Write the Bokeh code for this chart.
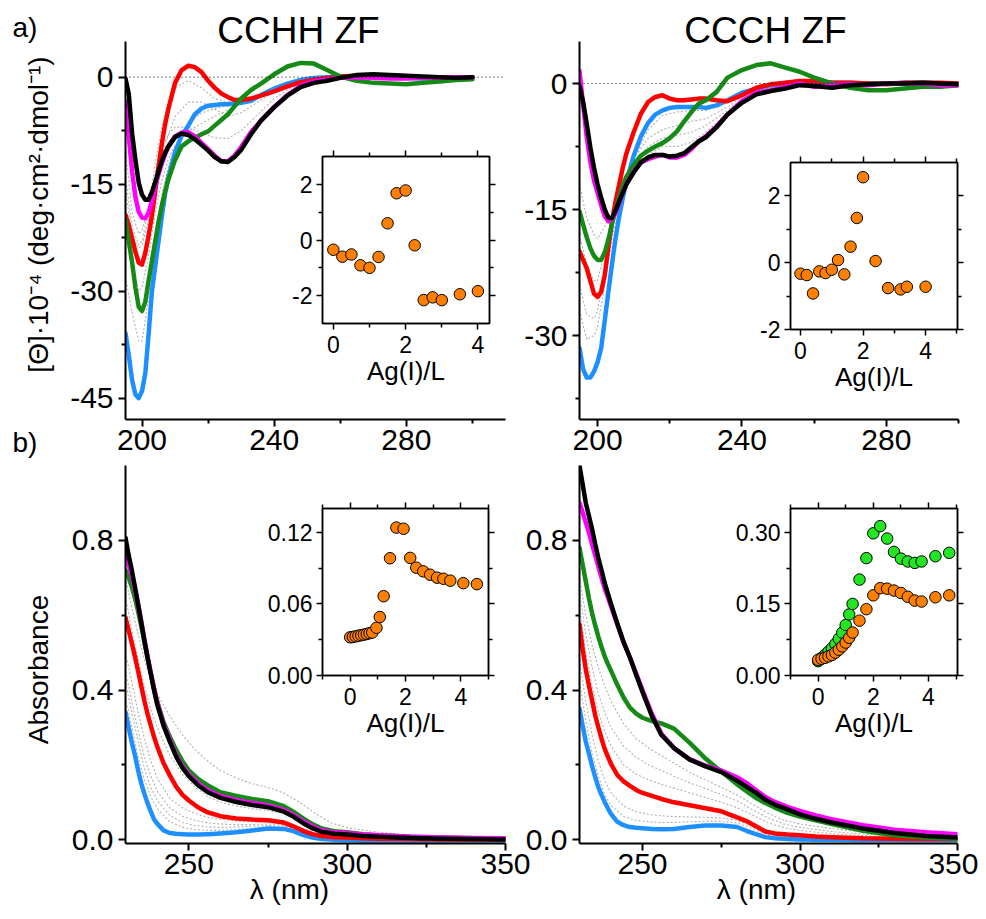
import math
from bokeh.plotting import figure
from bokeh.models import (Range1d, FixedTicker, Span, Label, LinearAxis,
                          PrintfTickFormatter, CustomJSTickFormatter)
from bokeh.embed import file_html
from bokeh.resources import INLINE

# ---------------- data: CD spectra (a) ----------------
cd_wl = [195, 196, 197, 198, 199, 200, 201, 202, 203, 204, 205, 206, 207, 208, 210, 212, 214, 216, 218, 220,
         222, 224, 226, 228, 230, 233, 236, 240, 244, 248, 252, 256, 260, 265, 270, 275, 280, 285, 290, 295, 300]

cchh_cd_blue = [-35.9, -39, -42.5, -44.5, -45, -44, -41.5, -36, -30, -26.5, -23, -19.5, -16.3, -14, -10.5, -8.2, -6.8,
                -5.2, -4.4, -4.0, -3.9, -3.8, -3.8, -3.7, -3.6, -3.3, -2.5, -1.6, -0.9, -0.4, -0.1, 0, 0.1, 0.1, 0.0,
                -0.1, -0.1, -0.2, -0.1, -0.1, 0.0]
cchh_cd_red = [-19.3, -20.8, -22.6, -24.5, -26, -26.3, -24.6, -22.2, -19.4, -16, -12.5, -9.3, -6.6, -4.4, -0.8, 1.0,
               1.6, 1.4, 0.7, -0.5, -1.5, -2.3, -2.8, -3.2, -3.2, -3.0, -2.6, -2.0, -1.3, -0.7, -0.4, -0.1, 0.1, 0.2,
               0.2, 0.1, 0, -0.1, 0, -0.1, 0]
cchh_cd_green = [-20, -23, -26, -29.5, -32.2, -32.8, -31.5, -28.5, -25.8, -23, -20.3, -18, -16, -14.3, -11.6, -9.7,
                 -9, -8.5, -8, -7.6, -6.8, -6, -5.2, -4.1, -3.0, -1.8, -0.9, 0.4, 1.5, 2.0, 1.9, 1.0, 0.1, -0.5, -0.8,
                 -0.9, -1.0, -0.8, -0.6, -0.4, -0.3]
cchh_cd_magenta = [-3.5, -8.4, -13.2, -16.8, -18.9, -19.7, -19.8, -19, -17.4, -15.3, -13.6, -12.1, -10.8, -9.7, -8.3,
                   -7.8, -7.7, -8.3, -9.2, -10.1, -11, -11.8, -11.8, -11, -9.8, -7.7, -6.1, -4.2, -2.5, -1.2, -0.6,
                   -0.3, -0.1, 0, -0.1, -0.2, -0.2, -0.1, -0.1, 0, 0]
cchh_cd_black = [-0.2, -2.4, -7.9, -11.6, -14.8, -16.5, -17.2, -17.2, -16.1, -14.7, -13.2, -11.7, -10.6, -9.7, -8.4,
                 -7.9, -8.1, -8.7, -9.5, -10.3, -11.2, -11.8, -11.9, -11.2, -10.2, -8, -6.1, -4.2, -2.6, -1.4, -0.8,
                 -0.5, -0.1, 0.3, 0.4, 0.3, 0.2, 0.1, 0, -0.1, 0]

ccch_cd_blue = [-31.5, -34, -35, -35, -34.3, -33.2, -31.5, -28.2, -24.8, -21.5, -18.4, -15.8, -13.6, -11.7, -8.6,
                -6.3, -4.7, -3.7, -3.2, -2.9, -2.8, -2.8, -2.8, -2.8, -2.9, -2.6, -2.0, -1.1, -0.6, -0.2, 0, 0.1, 0.2,
                0.1, 0.1, 0, 0, 0.1, 0.1, 0, 0]
ccch_cd_red = [-20, -21, -22, -23.5, -25, -25.4, -24.8, -22.8, -19.5, -16.5, -14, -12, -10, -8.3, -5.8, -3.6, -2.2,
               -1.6, -1.4, -1.8, -2.0, -2.0, -1.9, -1.8, -1.8, -2.0, -2.1, -1.4, -0.5, -0.1, 0.1, 0.3, 0.3, 0.1, 0.1,
               0, -0.1, 0.1, 0.1, 0.1, 0]
ccch_cd_green = [-15.2, -16.8, -18.3, -19.6, -20.5, -21, -21, -20.1, -18.6, -16.7, -15.0, -13.5, -12.1, -11.1, -9.7,
                 -8.6, -8.0, -7.5, -7.1, -6.5, -5.7, -4.5, -3.4, -2.4, -2.0, -1.0, 0.7, 1.6, 2.2, 2.4, 1.9, 1.4, 0.7,
                 0, -0.5, -0.8, -0.8, -0.6, -0.4, -0.4, -0.2]
ccch_cd_magenta = [1.5, -2.5, -6.4, -9.3, -11.5, -13, -14.5, -15.8, -16.4, -16.1, -15.4, -14.2, -12.9, -11.9, -10.5,
                   -9.4, -9, -8.7, -8.5, -8.8, -8.8, -8.5, -7.8, -6.9, -6.3, -5.1, -3.7, -2.1, -1.1, -0.8, -0.4, 0,
                   -0.4, -0.2, -0.1, -0.2, 0, 0, 0, -0.2, -0.2]
ccch_cd_black = [-0.3, -2.2, -4.8, -7.6, -10, -12, -13.6, -15, -16, -16, -15.1, -14, -13, -12, -10.6, -9.4, -8.8,
                 -8.5, -8.5, -8.7, -8.6, -8.3, -7.6, -6.9, -6.4, -5.2, -3.7, -2.3, -1.3, -0.9, -0.6, -0.2, -0.3, -0.5,
                 -0.2, -0.1, 0, 0, 0.1, 0, -0.1]

# intermediate titration points (grey dotted)
cd_grey_wl = [195, 197, 199, 200, 202, 204, 206, 208, 210, 214, 218, 222, 226, 230, 236, 240, 246, 252, 260, 280, 300]
cchh_cd_grey = [
    [-28, -33, -37, -37, -31, -23, -16.5, -12.5, -9.8, -6.5, -5.0, -4.4, -4.0, -3.6, -2.4, -1.6, -0.6, -0.2, 0, 0, 0],
    [-22, -27, -30, -29.5, -25, -19, -14.5, -11.5, -9.5, -7.5, -6.5, -5.5, -4.6, -3.6, -2.3, -1.5, -0.6, -0.2, 0, 0, 0],
    [-16, -22, -24, -23.5, -20, -15, -11, -8, -5.5, -3.5, -3.5, -4.5, -5.5, -5, -3.2, -2.0, -0.8, -0.3, 0, 0, 0],
    [-10, -19, -22, -21.5, -18, -13.5, -10, -8, -7, -7, -7.8, -8.5, -8.6, -7.5, -4.8, -3.0, -1.2, -0.4, 0, 0, 0],
    [-14, -21, -23.5, -23, -18.5, -12, -7, -3.5, -1.5, -0.5, -1.5, -3, -3.5, -3.3, -2.5, -1.8, -0.8, -0.3, 0, 0, 0],
]
ccch_cd_grey = [
    [-27, -30.5, -30, -29, -24, -18.5, -14.5, -11.5, -9, -5.5, -3.8, -3.4, -3.2, -3.2, -2.3, -1.3, -0.4, 0, 0, 0, 0],
    [-24, -27.5, -28, -27, -22, -17, -13.5, -11, -9, -6.5, -5.5, -5, -4.5, -4.2, -2.8, -1.6, -0.5, 0, 0, 0, 0],
    [-18, -21.5, -23.5, -23.5, -20, -16, -13, -11, -9.5, -7.5, -6.5, -6.2, -5.8, -5.0, -3.2, -1.8, -0.6, 0, 0, 0, 0],
    [-12, -16, -18, -18.5, -17, -15, -13.5, -12, -10.5, -8.5, -7.5, -7.5, -7, -5.8, -3.5, -2.0, -0.7, -0.1, 0, 0, 0],
]

# ---------------- data: UV-vis spectra (b) ----------------
uv_wl = [230, 231, 232, 233, 234, 235, 236, 237, 238, 239, 240, 242, 244, 246, 248, 250, 253, 256, 260, 265, 270,
         275, 280, 283, 286, 289, 292, 296, 300, 305, 310, 320, 330, 340, 350]

cchh_uv_blue = [0.34, 0.30, 0.26, 0.225, 0.185, 0.15, 0.122, 0.097, 0.075, 0.055, 0.043, 0.025, 0.018, 0.016, 0.015,
                0.014, 0.014, 0.015, 0.017, 0.02, 0.025, 0.03, 0.029, 0.023, 0.013, 0.006, 0.002, 0.0, -0.001, -0.002,
                -0.002, -0.002, -0.002, -0.002, -0.002]
cchh_uv_red = [0.594, 0.56, 0.525, 0.488, 0.45, 0.41, 0.37, 0.335, 0.305, 0.275, 0.25, 0.205, 0.172, 0.142, 0.12,
               0.105, 0.086, 0.073, 0.063, 0.057, 0.054, 0.052, 0.046, 0.036, 0.024, 0.015, 0.01, 0.007, 0.006, 0.004,
               0.003, 0.002, 0.001, 0.001, 0.001]
cchh_uv_green = [0.72, 0.70, 0.675, 0.645, 0.61, 0.57, 0.527, 0.485, 0.444, 0.405, 0.37, 0.315, 0.275, 0.24, 0.21,
                 0.185, 0.162, 0.145, 0.127, 0.117, 0.109, 0.103, 0.09, 0.075, 0.058, 0.042, 0.03, 0.023, 0.02, 0.015,
                 0.012, 0.008, 0.006, 0.004, 0.003]
cchh_uv_magenta = [0.76, 0.735, 0.705, 0.668, 0.628, 0.582, 0.534, 0.488, 0.446, 0.404, 0.366, 0.31, 0.267, 0.227,
                   0.197, 0.175, 0.15, 0.132, 0.117, 0.106, 0.098, 0.092, 0.08, 0.067, 0.05, 0.036, 0.025, 0.02,
                   0.018, 0.014, 0.012, 0.008, 0.006, 0.005, 0.004]
cchh_uv_black = [0.807, 0.76, 0.72, 0.675, 0.628, 0.58, 0.53, 0.485, 0.442, 0.40, 0.362, 0.305, 0.262, 0.222, 0.192,
                 0.17, 0.145, 0.127, 0.112, 0.101, 0.093, 0.087, 0.075, 0.062, 0.045, 0.031, 0.021, 0.016, 0.014,
                 0.010, 0.008, 0.005, 0.003, 0.002, 0.001]

ccch_uv_blue = [0.35, 0.305, 0.262, 0.23, 0.197, 0.167, 0.14, 0.12, 0.101, 0.084, 0.069, 0.048, 0.039, 0.034, 0.032,
                0.031, 0.029, 0.028, 0.029, 0.034, 0.038, 0.038, 0.034, 0.024, 0.015, 0.007, 0.004, 0.002, 0.001, 0,
                0, -0.001, -0.001, -0.001, -0.001]
ccch_uv_red = [0.575, 0.51, 0.455, 0.412, 0.372, 0.332, 0.3, 0.27, 0.243, 0.222, 0.203, 0.173, 0.156, 0.144, 0.133,
               0.125, 0.117, 0.109, 0.1, 0.092, 0.084, 0.076, 0.06, 0.05, 0.036, 0.022, 0.017, 0.014, 0.012, 0.009,
               0.007, 0.004, 0.003, 0.002, 0.002]
ccch_uv_green = [0.78, 0.735, 0.69, 0.645, 0.605, 0.572, 0.542, 0.515, 0.49, 0.47, 0.452, 0.414, 0.38, 0.353, 0.337,
                 0.326, 0.317, 0.311, 0.297, 0.259, 0.217, 0.182, 0.148, 0.13, 0.112, 0.098, 0.086, 0.072, 0.062,
                 0.052, 0.042, 0.024, 0.012, 0.006, 0.003]
ccch_uv_magenta = [0.9, 0.875, 0.848, 0.82, 0.79, 0.76, 0.73, 0.7, 0.672, 0.648, 0.624, 0.575, 0.528, 0.487, 0.444,
                   0.4, 0.336, 0.283, 0.245, 0.215, 0.198, 0.185, 0.167, 0.152, 0.133, 0.114, 0.101, 0.088, 0.077,
                   0.065, 0.055, 0.039, 0.027, 0.02, 0.015]
ccch_uv_black = [1.0, 0.95, 0.9, 0.865, 0.83, 0.79, 0.752, 0.72, 0.686, 0.658, 0.63, 0.578, 0.528, 0.487, 0.44,
                 0.395, 0.33, 0.28, 0.245, 0.214, 0.196, 0.181, 0.158, 0.142, 0.126, 0.107, 0.094, 0.081, 0.068,
                 0.056, 0.046, 0.03, 0.018, 0.01, 0.006]

uv_grey_wl = [230, 232, 234, 236, 238, 240, 244, 248, 252, 256, 260, 265, 270, 275, 280, 285, 290, 295, 300, 310,
              320, 335, 350]
cchh_uv_grey = [
    [0.7, 0.62, 0.55, 0.48, 0.43, 0.39, 0.33, 0.28, 0.24, 0.21, 0.185, 0.165, 0.15, 0.14, 0.125, 0.1, 0.07, 0.045,
     0.032, 0.02, 0.013, 0.008, 0.005],
    [0.65, 0.56, 0.48, 0.41, 0.35, 0.30, 0.225, 0.175, 0.14, 0.115, 0.1, 0.09, 0.083, 0.078, 0.071, 0.055, 0.033,
     0.02, 0.015, 0.01, 0.007, 0.004, 0.003],
    [0.5, 0.42, 0.34, 0.27, 0.21, 0.165, 0.11, 0.085, 0.07, 0.06, 0.055, 0.05, 0.048, 0.047, 0.045, 0.035, 0.018,
     0.008, 0.005, 0.003, 0.002, 0.001, 0.001],
    [0.45, 0.37, 0.29, 0.22, 0.17, 0.13, 0.085, 0.063, 0.052, 0.045, 0.042, 0.04, 0.041, 0.042, 0.041, 0.031, 0.015,
     0.006, 0.004, 0.003, 0.002, 0.001, 0.001],
    [0.42, 0.34, 0.26, 0.19, 0.14, 0.105, 0.065, 0.046, 0.038, 0.034, 0.033, 0.034, 0.036, 0.038, 0.037, 0.028,
     0.012, 0.004, 0.002, 0.002, 0.001, 0.001, 0.001],
    [0.38, 0.3, 0.22, 0.16, 0.115, 0.083, 0.048, 0.033, 0.027, 0.025, 0.025, 0.027, 0.03, 0.033, 0.033, 0.025, 0.01,
     0.003, 0.001, 0.001, 0.0, 0.0, 0.0],
]
ccch_uv_grey = [
    [0.7, 0.6, 0.52, 0.46, 0.41, 0.37, 0.31, 0.27, 0.245, 0.225, 0.205, 0.18, 0.16, 0.14, 0.12, 0.095, 0.07, 0.052,
     0.042, 0.03, 0.02, 0.01, 0.005],
    [0.66, 0.55, 0.46, 0.39, 0.34, 0.3, 0.25, 0.22, 0.2, 0.185, 0.17, 0.152, 0.137, 0.121, 0.104, 0.08, 0.058, 0.042,
     0.033, 0.022, 0.015, 0.008, 0.004],
    [0.62, 0.5, 0.41, 0.34, 0.29, 0.25, 0.2, 0.175, 0.16, 0.148, 0.138, 0.125, 0.113, 0.1, 0.086, 0.066, 0.045, 0.032,
     0.025, 0.016, 0.011, 0.006, 0.003],
    [0.48, 0.37, 0.28, 0.21, 0.16, 0.125, 0.09, 0.075, 0.068, 0.064, 0.062, 0.061, 0.06, 0.058, 0.052, 0.035, 0.015,
     0.008, 0.005, 0.003, 0.002, 0.001, 0.001],
    [0.42, 0.32, 0.23, 0.17, 0.12, 0.092, 0.062, 0.052, 0.048, 0.046, 0.046, 0.048, 0.049, 0.049, 0.045, 0.03, 0.012,
     0.005, 0.003, 0.002, 0.001, 0.001, 0.001],
]

# ---------------- data: insets (titration vs Ag(I)/L) ----------------
cchh_cd_ratio = [0, 0.25, 0.5, 0.75, 1.0, 1.25, 1.5, 1.75, 2.0, 2.25, 2.5, 2.75, 3.0, 3.5, 4.0]
cchh_cd_signal = [-0.35, -0.6, -0.52, -0.91, -1.0, -0.61, 0.6, 1.68, 1.78, -0.19, -2.16, -2.06, -2.16, -1.95, -1.84]

ccch_cd_ratio = [0, 0.2, 0.4, 0.6, 0.8, 1.0, 1.2, 1.4, 1.6, 1.8, 2.0, 2.4, 2.8, 3.2, 3.4, 4.0]
ccch_cd_signal = [-0.33, -0.37, -0.92, -0.26, -0.31, -0.21, 0.08, -0.35, 0.48, 1.34, 2.56, 0.05, -0.76, -0.8, -0.72,
                  -0.72]

cchh_uv_ratio = [0, 0.1, 0.2, 0.3, 0.4, 0.5, 0.6, 0.7, 0.8, 0.95, 1.07, 1.21, 1.44, 1.67, 1.93, 2.17, 2.39, 2.64,
                 2.89, 3.14, 3.37, 3.62, 4.09, 4.58]
cchh_uv_abs = [0.032, 0.0323, 0.0328, 0.0333, 0.0338, 0.0343, 0.0348, 0.0355, 0.036, 0.040, 0.049, 0.0665, 0.0983,
               0.124, 0.123, 0.0986, 0.0904, 0.0873, 0.0845, 0.082, 0.0811, 0.0795, 0.0774, 0.0766]

ccch_uv_ratio = [0, 0.125, 0.25, 0.375, 0.5, 0.625, 0.75, 0.875, 1.0, 1.125, 1.25, 1.5, 1.75, 2.0, 2.25, 2.5, 2.75,
                 3.0, 3.25, 3.5, 3.75, 4.25, 4.75]
ccch_uv_abs_green = [0.030, 0.037, 0.043, 0.050, 0.057, 0.066, 0.077, 0.090, 0.106, 0.128, 0.150, 0.201, 0.246,
                     0.298, 0.313, 0.287, 0.259, 0.245, 0.239, 0.236, 0.239, 0.250, 0.257]
ccch_uv_abs_orange = [0.033, 0.035, 0.037, 0.040, 0.043, 0.048, 0.054, 0.061, 0.069, 0.079, 0.090, 0.115, 0.139,
                      0.168, 0.183, 0.182, 0.178, 0.173, 0.165, 0.157, 0.155, 0.164, 0.168]

# ---------------- style ----------------
W, H, M = 970, 903, 8
FONT = "Liberation Sans"
C_BLUE, C_RED, C_GREEN, C_MAG, C_BLACK = "#1e8fff", "#ff0000", "#168a16", "#ff00ff", "#000000"
C_GREY = "#b0b0b0"
C_ORANGE, C_LIME = "#ff8000", "#22e622"


def make_fig(xr, yr, frame, fill=None):
    l, r, t, b = frame  # frame edges in page pixels
    p = figure(width=W, height=H, x_range=Range1d(*xr), y_range=Range1d(*yr),
               output_backend="svg", toolbar_location=None, title=None,
               min_border_left=l - M, min_border_right=W - (r - M),
               min_border_top=t - M, min_border_bottom=H - (b - M),
               styles={"position": "absolute", "left": f"{M}px", "top": f"{M}px"})
    p.border_fill_color = None
    p.background_fill_color = fill
    p.outline_line_color = None
    p.xgrid.visible = False
    p.ygrid.visible = False
    return p


def style_axis(ax, lw, maj, mnr, fs, standoff):
    ax.axis_line_width = lw
    ax.axis_line_color = "black"
    ax.major_tick_line_width = lw
    ax.minor_tick_line_width = lw
    ax.major_tick_out = maj
    ax.major_tick_in = 0
    ax.minor_tick_out = mnr
    ax.minor_tick_in = 0
    ax.major_label_text_font = FONT
    ax.major_label_text_font_size = fs
    ax.major_label_text_color = "black"
    ax.major_label_standoff = standoff
    ax.axis_label_text_font = FONT
    ax.axis_label_text_font_style = "normal"
    ax.axis_label_text_color = "black"


def main_panel(xr, yr, frame, xt, xm, yt, ym, xfmt, yfmt):
    p = make_fig(xr, yr, frame)
    bx, ly = p.below[0], p.left[0]
    style_axis(bx, 2, 7, 4, "30px", 3)
    style_axis(ly, 2, 7, 4, "30px", 5)
    bx.ticker = FixedTicker(ticks=xt, minor_ticks=xm)
    ly.ticker = FixedTicker(ticks=yt, minor_ticks=ym)
    bx.formatter = PrintfTickFormatter(format=xfmt)
    ly.formatter = PrintfTickFormatter(format=yfmt)
    return p


def draw_spectra(p, wl, curves, grey_wl, greys):
    for g in greys:
        p.line(grey_wl, g, line_color=C_GREY, line_width=1.1, line_dash="2 2")
    for ys, c in zip(curves, [C_BLUE, C_RED, C_GREEN, C_MAG, C_BLACK]):
        p.line(wl, ys, line_color=c, line_width=4.5, line_join="round", line_cap="round")


def inset(xr, yr, frame, xt, xm, yt, ym, yfmt):
    p = make_fig(xr, yr, frame, fill="white")
    p.outline_line_color = "black"
    p.outline_line_width = 1.5
    bx, ly = p.below[0], p.left[0]
    ta, ra = LinearAxis(), LinearAxis()
    p.add_layout(ta, "above")
    p.add_layout(ra, "right")
    style_axis(bx, 1.5, 6, 4, "23px", 6)
    style_axis(ly, 1.5, 6, 4, "23px", 4)
    style_axis(ta, 1.5, 6, 4, "23px", 2)
    style_axis(ra, 1.5, 6, 4, "23px", 2)
    for ax in (bx, ta):
        ax.ticker = FixedTicker(ticks=xt, minor_ticks=xm)
    for ax in (ly, ra):
        ax.ticker = FixedTicker(ticks=yt, minor_ticks=ym)
    bx.formatter = PrintfTickFormatter(format="%d")
    ly.formatter = PrintfTickFormatter(format=yfmt)
    ta.formatter = CustomJSTickFormatter(code="return ''")
    ra.formatter = CustomJSTickFormatter(code="return ''")
    bx.axis_label = "Ag(I)/L"
    bx.axis_label_text_font_size = "26px"
    bx.axis_label_standoff = 0
    return p


def dots(p, x, y, color):
    p.scatter(x, y, size=11.5, fill_color=color, line_color="black", line_width=1)


# ---------------- panel a) CCHH CD ----------------
p_a1 = main_panel((195, 310), (-48, 5), (125, 505, 41, 419), [200, 240, 280], [220, 260, 300],
                  [0, -15, -30, -45], [-7.5, -22.5, -37.5], "%d", "%d")
p_a1.add_layout(Span(location=0, dimension="width", line_color="black", line_width=1, line_dash="1 3"))
draw_spectra(p_a1, cd_wl, [cchh_cd_blue, cchh_cd_red, cchh_cd_green, cchh_cd_magenta, cchh_cd_black],
             cd_grey_wl, cchh_cd_grey)

# ---------------- panel a) CCCH CD ----------------
p_a2 = main_panel((195, 300), (-40, 5), (579, 958, 41, 419), [200, 240, 280], [220, 260, 300],
                  [0, -15, -30], [-7.5, -22.5, -37.5], "%d", "%d")
p_a2.add_layout(Span(location=0, dimension="width", line_color="black", line_width=1, line_dash="1 3"))
draw_spectra(p_a2, cd_wl, [ccch_cd_blue, ccch_cd_red, ccch_cd_green, ccch_cd_magenta, ccch_cd_black],
             cd_grey_wl, ccch_cd_grey)

# ---------------- panel b) CCHH UV ----------------
p_b1 = main_panel((230, 350), (-0.01, 1.0), (125, 505, 465, 843), [250, 300, 350], [275, 325],
                  [0.0, 0.4, 0.8], [0.2, 0.6], "%d", "%.1f")
draw_spectra(p_b1, uv_wl, [cchh_uv_blue, cchh_uv_red, cchh_uv_green, cchh_uv_magenta, cchh_uv_black],
             uv_grey_wl, cchh_uv_grey)

# ---------------- panel b) CCCH UV ----------------
p_b2 = main_panel((230, 350), (-0.01, 1.0), (579, 957, 465, 843), [250, 300, 350], [275, 325],
                  [0.0, 0.4, 0.8], [0.2, 0.6], "%d", "%.1f")
draw_spectra(p_b2, uv_wl, [ccch_uv_blue, ccch_uv_red, ccch_uv_green, ccch_uv_magenta, ccch_uv_black],
             uv_grey_wl, ccch_uv_grey)

# ---------------- insets ----------------
i_a1 = inset((-0.3, 4.32), (-3, 3), (322, 489, 156, 323), [0, 2, 4], [1, 3], [-2, 0, 2], [-1, 1], "%d")
dots(i_a1, cchh_cd_ratio, cchh_cd_signal, C_ORANGE)

i_a2 = inset((-0.32, 5.02), (-2, 3), (790, 957, 162, 329), [0, 2, 4], [1, 3, 5], [-2, 0, 2], [-1, 1], "%d")
dots(i_a2, ccch_cd_ratio, ccch_cd_signal, C_ORANGE)

i_b1 = inset((-1, 5), (0, 0.14), (322, 488, 508, 675), [0, 2, 4], [-1, 1, 3, 5], [0, 0.06, 0.12], [0.03, 0.09],
             "%.2f")
dots(i_b1, cchh_uv_ratio, cchh_uv_abs, C_ORANGE)

i_b2 = inset((-1, 5.05), (0, 0.35), (790, 957, 508, 675), [0, 2, 4], [-1, 1, 3, 5], [0, 0.15, 0.30],
             [0.075, 0.225], "%.2f")
dots(i_b2, ccch_uv_ratio, ccch_uv_abs_green, C_LIME)
dots(i_b2, ccch_uv_ratio, ccch_uv_abs_orange, C_ORANGE)

# ---------------- page texts (titles, panel letters, axis titles) ----------------
txt = figure(width=W, height=H, x_range=Range1d(M, W + M), y_range=Range1d(H + M, M),
             output_backend="svg", toolbar_location=None, x_axis_location=None, y_axis_location=None,
             title=None, min_border=0,
             styles={"position": "absolute", "left": f"{M}px", "top": f"{M}px"})
txt.min_border_left = txt.min_border_right = txt.min_border_top = txt.min_border_bottom = 0
txt.border_fill_color = None
txt.background_fill_color = None
txt.outline_line_color = None
txt.xgrid.visible = False
txt.ygrid.visible = False


def text(x, y, s, size, align="left", angle=0.0):
    txt.add_layout(Label(x=x, y=y, text=s, angle=angle, text_align=align, text_baseline="alphabetic",
                         text_font=FONT, text_font_size=size, text_color="black"))


text(298, 30, "CCHH ZF", "37px", "center")
text(765, 30, "CCCH ZF", "37px", "center")
text(12, 27, "a)", "28px")
text(12, 442, "b)", "28px")
text(38, 214, "[Θ]·10⁻⁴ (deg·cm²·dmol⁻¹)", "28px", "center", math.pi / 2)
text(38, 669, "Absorbance", "28px", "center", math.pi / 2)
text(289, 889, "λ (nm)", "28px", "center")
text(756, 889, "λ (nm)", "28px", "center")

figs = [p_a1, p_a2, p_b1, p_b2, i_a1, i_a2, i_b1, i_b2, txt]

open("out.html", "w").write(file_html(figs, INLINE))
